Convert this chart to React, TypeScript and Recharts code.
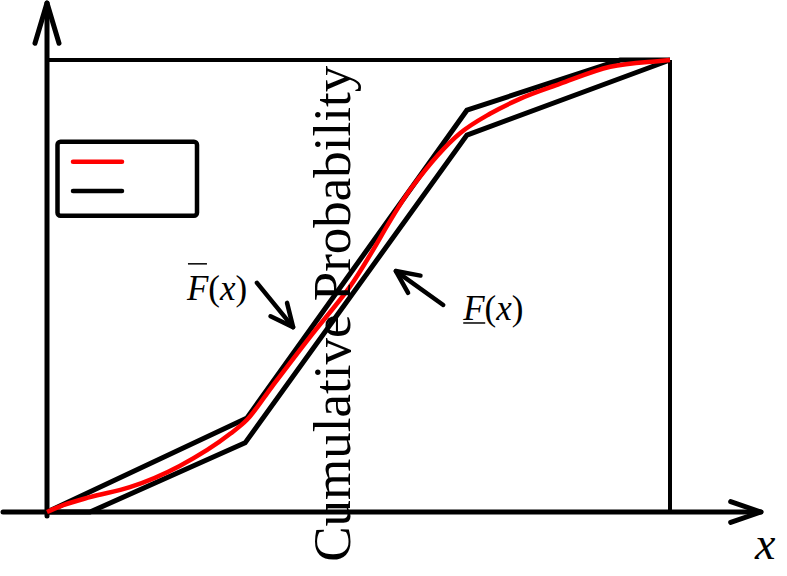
import { LineChart, Line, XAxis, YAxis, ReferenceLine, Legend } from 'recharts'

const SERIF = '"Liberation Serif", "Times New Roman", serif'

// upper bound F̄(x): piecewise linear, reaches 1 before the right edge
const upperX = [0, 0.321, 0.674, 0.92, 1]
const upperY = [0, 0.208, 0.889, 1, 1]

// lower bound F̲(x): starts flat along the axis
const lowerX = [0, 0.069, 0.318, 0.674, 1]
const lowerY = [0, 0, 0.153, 0.834, 1]

// smooth CDF lying between the two bounds
const exactX = [0, 0.026, 0.069, 0.133, 0.213, 0.294, 0.321, 0.361, 0.422, 0.486, 0.586, 0.663, 0.711, 0.759, 0.823, 0.904, 0.984, 1]
const exactY = [0, 0.015, 0.033, 0.055, 0.102, 0.173, 0.204, 0.277, 0.387, 0.498, 0.719, 0.838, 0.881, 0.914, 0.947, 0.985, 0.998, 1]

const axisLabel = 'x'
const yLabel = 'Cumulative  Probability'

const toPoints = (xs: number[], ys: number[]) => xs.map((x, i) => ({ x, y: ys[i] }))

const upper = toPoints(upperX, upperY)
const lower = toPoints(lowerX, lowerY)
const exact = toPoints(exactX, exactY)

function headPath(x1: number, y1: number, x2: number, y2: number, len: number, spread: number) {
  const a = Math.atan2(y2 - y1, x2 - x1)
  const p = (s: number) => `${x2 - len * Math.cos(a + s)},${y2 - len * Math.sin(a + s)}`
  return `M${p(spread)}L${x2},${y2}L${p(-spread)}`
}

// line with an open arrowhead at its end point, plus an optional label
const arrow = (len: number, spread: number, width: number, label?: (x1: number, y1: number, x2: number, y2: number) => any) =>
  (props: any) => {
    const { x1, y1, x2, y2 } = props
    return (
      <g>
        <line x1={x1} y1={y1} x2={x2} y2={y2} stroke="#000" strokeWidth={width} strokeLinecap="round" />
        <path d={headPath(x1, y1, x2, y2, len, spread)} fill="none" stroke="#000" strokeWidth={width}
          strokeLinecap="round" strokeLinejoin="round" />
        {label && label(x1, y1, x2, y2)}
      </g>
    )
  }

const Fx = ({ x, y }: { x: number; y: number }) => (
  <text x={x} y={y} fontFamily={SERIF} fontSize={35} fill="#000">
    <tspan fontStyle="italic">F</tspan>
    <tspan>(</tspan>
    <tspan fontStyle="italic">x</tspan>
    <tspan>)</tspan>
  </text>
)

const LegendBox = (props: any) => {
  const items = (props.payload ?? []).filter((p: any) => p.type !== 'none').reverse()
  return (
    <svg width={146} height={82}>
      <rect x={2.5} y={2.7} width={139.5} height={74} rx={3} fill="#fff" stroke="#000" strokeWidth={4.5} />
      {items.map((p: any, i: number) => (
        <line key={i} x1={18} x2={67} y1={22.7 + i * 29.3} y2={22.7 + i * 29.3}
          stroke={p.color} strokeWidth={4.5} strokeLinecap="round" />
      ))}
    </svg>
  )
}

export default function App() {
  return (
    <div style={{ position: 'absolute', left: 0, top: 0 }}>
      <LineChart width={787} height={576} margin={{ top: 60, right: 117, bottom: 64, left: 47 }}>
        <XAxis type="number" dataKey="x" domain={[0, 1]} hide />
        <YAxis type="number" dataKey="y" domain={[0, 1]} hide />

        {/* box frame */}
        <ReferenceLine segment={[{ x: 0, y: 1 }, { x: 1, y: 1 }]} stroke="#000" strokeWidth={4} ifOverflow="visible" />
        <ReferenceLine segment={[{ x: 1, y: 0 }, { x: 1, y: 1 }]} stroke="#000" strokeWidth={4} ifOverflow="visible" />

        {/* axes with arrowheads */}
        <ReferenceLine segment={[{ x: -0.0706, y: 0 }, { x: 1.146, y: 0 }]} ifOverflow="visible"
          shape={arrow(32, 0.33, 5, (_a, _b, x2, y2) => (
            <text x={x2 - 6} y={y2 + 47} fontFamily={SERIF} fontStyle="italic" fontSize={46} fill="#000">{axisLabel}</text>
          ))} />
        <ReferenceLine segment={[{ x: 0, y: -0.009 }, { x: 0, y: 1.126 }]} ifOverflow="visible"
          shape={arrow(42, 0.29, 5)} />

        <Line data={upper} dataKey="y" type="linear" stroke="#000" strokeWidth={5} dot={false}
          legendType="none" isAnimationActive={false} />
        <Line data={lower} dataKey="y" type="linear" stroke="#000" strokeWidth={5} dot={false}
          isAnimationActive={false} />
        <Line data={exact} dataKey="y" type="monotone" stroke="#ff0000" strokeWidth={4.5} dot={false}
          isAnimationActive={false} />

        {/* vertical label through the middle of the plot */}
        <ReferenceLine segment={[{ x: 0.487, y: -0.13 }, { x: 0.487, y: 1.007 }]} ifOverflow="visible"
          shape={(p: any) => {
            const cy = (p.y1 + p.y2) / 2
            return (
              <text x={p.x1} y={cy} transform={`rotate(-90, ${p.x1}, ${cy})`} textAnchor="middle"
                fontFamily={SERIF} fontSize={53} fill="#000">{yLabel}</text>
            )
          }} />

        {/* bound annotations */}
        <ReferenceLine segment={[{ x: 0.337, y: 0.507 }, { x: 0.395, y: 0.409 }]} ifOverflow="visible"
          shape={arrow(25, 0.44, 4.5, (x1, y1) => (
            <g>
              <Fx x={x1 - 70} y={y1 + 17} />
              <line x1={x1 - 69} x2={x1 - 50} y1={y1 - 19} y2={y1 - 19} stroke="#000" strokeWidth={1.5} />
            </g>
          ))} />
        <ReferenceLine segment={[{ x: 0.636, y: 0.458 }, { x: 0.56, y: 0.533 }]} ifOverflow="visible"
          shape={arrow(25, 0.44, 4.5, (x1, y1) => (
            <g>
              <Fx x={x1 + 20} y={y1 + 15} />
              <line x1={x1 + 20} x2={x1 + 42} y1={y1 + 18} y2={y1 + 18} stroke="#000" strokeWidth={1.5} />
            </g>
          ))} />

        <Legend layout="vertical" align="center" verticalAlign="middle" content={LegendBox}
          wrapperStyle={{ left: 55, top: 139, width: 146, height: 82 }} />
      </LineChart>
    </div>
  )
}
